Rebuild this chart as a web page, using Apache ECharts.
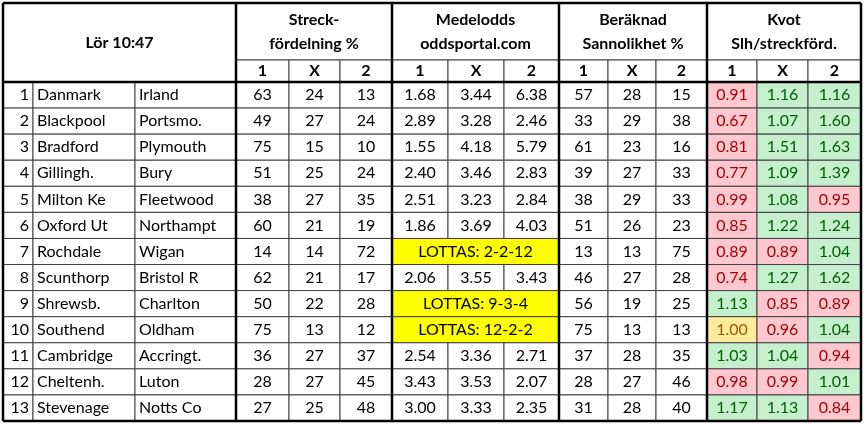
<!DOCTYPE html>
<html><head><meta charset="utf-8">
<script src="https://cdn.jsdelivr.net/npm/echarts@6/dist/echarts.min.js"></script>
<style>html,body{margin:0;background:#fff}#c{width:867px;height:425px}</style>
</head><body><div id="c"></div>
<script>
// data
var hemma = ["Danmark","Blackpool","Bradford","Gillingh.","Milton Ke","Oxford Ut","Rochdale","Scunthorp","Shrewsb.","Southend","Cambridge","Cheltenh.","Stevenage"];
var borta = ["Irland","Portsmo.","Plymouth","Bury","Fleetwood","Northampt","Wigan","Bristol R","Charlton","Oldham","Accringt.","Luton","Notts Co"];
var streck = [[63,24,13],[49,27,24],[75,15,10],[51,25,24],[38,27,35],[60,21,19],[14,14,72],[62,21,17],[50,22,28],[75,13,12],[36,27,37],[28,27,45],[27,25,48]];
var odds = [["1.68","3.44","6.38"],["2.89","3.28","2.46"],["1.55","4.18","5.79"],["2.40","3.46","2.83"],["2.51","3.23","2.84"],["1.86","3.69","4.03"],
  "LOTTAS: 2-2-12",["2.06","3.55","3.43"],"LOTTAS: 9-3-4","LOTTAS: 12-2-2",["2.54","3.36","2.71"],["3.43","3.53","2.07"],["3.00","3.33","2.35"]];
var sannolikhet = [[57,28,15],[33,29,38],[61,23,16],[39,27,33],[38,29,33],[51,26,23],[13,13,75],[46,27,28],[56,19,25],[75,13,13],[37,28,35],[28,27,46],[31,28,40]];
var kvot = [["0.91","1.16","1.16"],["0.67","1.07","1.60"],["0.81","1.51","1.63"],["0.77","1.09","1.39"],["0.99","1.08","0.95"],["0.85","1.22","1.24"],
  ["0.89","0.89","1.04"],["0.74","1.27","1.62"],["1.13","0.85","0.89"],["1.00","0.96","1.04"],["1.03","1.04","0.94"],["0.98","0.99","1.01"],["1.17","1.13","0.84"]];
var rubriker = ["Streck-\nfördelning %","Medelodds\noddsportal.com","Beräknad\nSannolikhet %","Kvot\nSlh/streckförd."];
var titel = "Lör 10:47";

// layout
var colX = [3,33,135,236,289,340,392,448,504,559,608,656,707,757,808,861];
var top0 = 3, head1 = 60, head2 = 82, bottom0 = 421;
var rowH = (bottom0 - head2) / 13;

var cells = [];
function cell(c0,c1,y0,y1,text,o){ o=o||{}; cells.push([colX[c0],colX[c1],y0,y1,String(text),o.fill||'#fff',o.color||'#000',o.bold?1:0,o.align||'center']); }
cell(0,3,top0,head2,titel,{bold:true});
for (var g=0; g<4; g++){
  cell(3+g*3,6+g*3,top0,head1,rubriker[g],{bold:true});
  ["1","X","2"].forEach(function(s,k){ cell(3+g*3+k,4+g*3+k,head1,head2,s,{bold:true}); });
}
for (var r=0; r<13; r++){
  var y0 = head2 + r*rowH, y1 = y0 + rowH;
  cell(0,1,y0,y1,r+1,{align:'right'});
  cell(1,2,y0,y1,hemma[r],{align:'left'});
  cell(2,3,y0,y1,borta[r],{align:'left'});
  for (var k=0;k<3;k++) cell(3+k,4+k,y0,y1,streck[r][k]);
  if (typeof odds[r] === 'string') cell(6,9,y0,y1,odds[r],{fill:'#ffff00'});
  else for (k=0;k<3;k++) cell(6+k,7+k,y0,y1,odds[r][k]);
  for (k=0;k<3;k++) cell(9+k,10+k,y0,y1,sannolikhet[r][k]);
  for (k=0;k<3;k++){
    var v = parseFloat(kvot[r][k]);
    var st = v>1 ? {fill:'#c6efce',color:'#006100'} : v<1 ? {fill:'#ffc7ce',color:'#9c0006'} : {fill:'#ffeb9c',color:'#9c5700'};
    cell(12+k,13+k,y0,y1,kvot[r][k],st);
  }
}

var thick = [[3,top0,861,top0],[3,bottom0,861,bottom0],[3,top0,3,bottom0],[861,top0,861,bottom0],[3,head2,861,head2],
  [236,top0,236,bottom0],[392,top0,392,bottom0],[559,top0,559,bottom0],[707,top0,707,bottom0]];

var chart = echarts.init(document.getElementById('c'));
chart.setOption({
  animation:false,
  grid:{left:0,right:0,top:0,bottom:0},
  xAxis:{type:'value',min:0,max:867,show:false},
  yAxis:{type:'value',min:0,max:425,inverse:true,show:false},
  series:[{
    type:'custom', data:cells,
    renderItem:function(params,api){
      var p0 = api.coord([api.value(0),api.value(2)]), p1 = api.coord([api.value(1),api.value(3)]);
      var d = cells[params.dataIndex], align = d[8];
      var tx = align==='left' ? p0[0]+4 : align==='right' ? p1[0]-4 : (p0[0]+p1[0])/2;
      return {type:'group',children:[
        {type:'rect',shape:{x:p0[0],y:p0[1],width:p1[0]-p0[0],height:p1[1]-p0[1]},
         style:{fill:d[5],stroke:'#404040',lineWidth:1}},
        {type:'text',style:{x:tx,y:(p0[1]+p1[1])/2,text:d[4],fill:d[6],align:align,verticalAlign:'middle',
          font:(d[7]?'bold ':'')+'16px Lato, "Liberation Sans", sans-serif',lineHeight:24}}
      ]};
    }
  },{
    type:'custom', data:thick, z:5,
    renderItem:function(params,api){
      var a = api.coord([api.value(0),api.value(1)]), b = api.coord([api.value(2),api.value(3)]);
      return {type:'line',shape:{x1:a[0],y1:a[1],x2:b[0],y2:b[1]},style:{stroke:'#000',lineWidth:2.5}};
    }
  }]
});
</script></body></html>
